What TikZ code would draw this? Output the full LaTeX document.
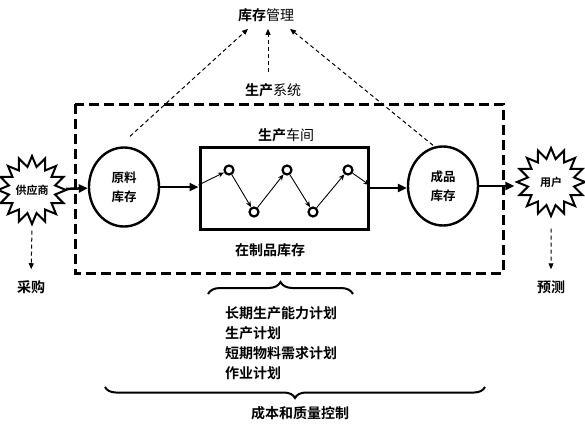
\documentclass[tikz,border=0pt]{standalone}
\usepackage{fontspec}
\setmainfont{Noto Sans CJK SC}[BoldFont={Noto Sans CJK SC Bold}]
\usetikzlibrary{
	arrows.meta,
	calc,
	positioning,
	shapes.geometric,
	decorations.pathreplacing
}
\tikzset{
	kucun/.style={ellipse, draw, line width=2.4pt, minimum width=70pt, minimum height=79pt,
		align=center, font=\bfseries\fontsize{12.5}{19}\selectfont},
	waibu/.style={star, star points=16, star point ratio=1.45, draw, line width=2pt,
		minimum size=68pt, inner sep=0pt, font=\bfseries\fontsize{11}{13}\selectfont},
	jiedian/.style={circle, draw, line width=2.2pt, minimum size=9pt, inner sep=0pt},
	wenzi/.style={font=\bfseries\fontsize{14}{20}\selectfont, inner sep=1pt},
	cu/.style={line width=2.5pt, -{Triangle[length=9pt,width=8pt]}},
	xi/.style={line width=0.9pt, -{Stealth[length=6pt,width=5pt]}},
	xu/.style={line width=1pt, dash pattern=on 4pt off 3pt, -{Triangle[length=6pt,width=5pt]}},
	kuohao/.style={decorate, decoration={brace, amplitude=#1}, line width=2pt}
}
\begin{document}
\begin{tikzpicture}[x=1pt, y=-1pt]
		\useasboundingbox (0,0) rectangle (585,431);
		
		% 生产系统（虚线框）
		\draw[line width=3pt, dash pattern=on 10pt off 5pt] (75,104) rectangle (503,273);
		
		% 文字
		\node[wenzi] (guanli) at (266,15) {库存\mdseries 管理};
		\node[wenzi] (xitong) at (273,90) {生产\mdseries 系统};
		\node[wenzi] (chejian) at (286,135) {生产\mdseries 车间};
		\node[wenzi] (zaizhi) at (270,250) {在制品库存};
		\node[wenzi] (caigou) at (31,287) {采购};
		\node[wenzi] (yuce) at (551,287) {预测};
		\node[wenzi] (kongzhi) at (300,413) {成本和质量控制};
		\node[wenzi, align=left, anchor=west] (jihua) at (224,343)
			{长期生产能力计划\\生产计划\\短期物料需求计划\\作业计划};
		
		% 库存与车间
		\node[kucun] (yuanliao) at (124,187) {原料\\库存};
		\node[kucun] (chengpin) at (443,186) {成品\\库存};
		\node[draw, line width=3pt, minimum width=168pt, minimum height=82pt] (shop) at (284,188) {};
		
		% 供应商与用户
		\node[waibu] (gongying) at (32,190) {供应商};
		\node[waibu] (yonghu) at (551,182) {用户};
		
		% 车间内的工序
		\foreach \i/\x/\y in {1/229/170, 2/254/212, 3/287/170, 4/313/212, 5/348/170}
			\node[jiedian] (c\i) at (\x,\y) {};
		\draw[xi] ([yshift=3pt]shop.west) -- (c1);
		\foreach \i [evaluate=\i as \j using int(\i+1)] in {1,...,4}
			\draw[xi] (c\i) -- (c\j);
		\draw[xi] (c5) -- ([yshift=3pt]shop.east);
		
		% 物流
		\draw[cu] (gongying) -- (yuanliao);
		\draw[cu] (yuanliao.east) -- (yuanliao.east -| shop.west);
		\draw[cu] (shop.east) -- (shop.east -| chengpin.west);
		\draw[cu] (chengpin.east) -- (chengpin.east -| yonghu.west);
		
		% 信息流（虚线）
		\draw[xu] ($(yuanliao.north)+(6,-10)$) -- ($(guanli.south)+(-18,6)$);
		\draw[xu] ($(xitong.north)+(-5,-10)$) -- ($(guanli.south)+(2,6)$);
		\draw[xu] ($(chengpin.north)+(-10,0)$) -- ($(guanli.south)+(24,6)$);
		\draw[xu, shorten <=4pt, shorten >=10pt] (gongying.south) -- (caigou.north);
		\draw[xu, shorten <=10pt, shorten >=10pt] (yonghu.south) -- (yuce.north);
		
		% 括号
		\coordinate (kuoA) at (208,294);
		\coordinate (kuoB) at (353,294);
		\coordinate (kuoC) at (485,387);
		\coordinate (kuoD) at (105,387);
		\draw[kuohao=12pt] (kuoA) -- (kuoB);
		\draw[kuohao=11pt] (kuoC) -- (kuoD);
	\end{tikzpicture}
\end{document}
